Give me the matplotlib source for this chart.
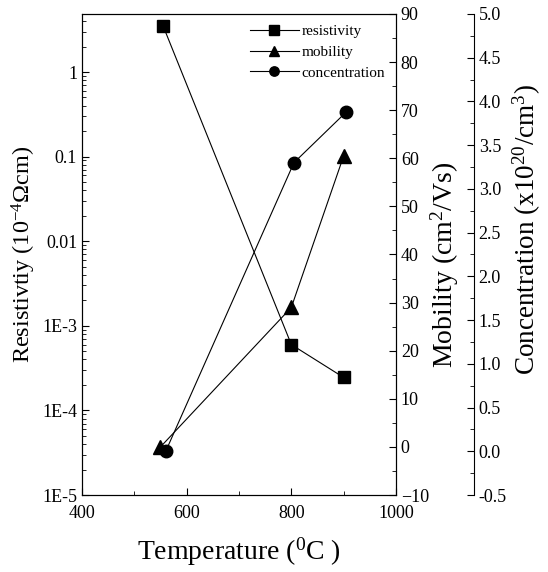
import matplotlib
matplotlib.use('Agg')
import matplotlib.pyplot as plt
from matplotlib.ticker import FixedLocator, MultipleLocator, LogLocator, NullFormatter, FuncFormatter

plt.rcParams['font.family'] = ['Liberation Serif', 'DejaVu Serif']
plt.rcParams['mathtext.fontset'] = 'custom'
plt.rcParams['mathtext.rm'] = 'Liberation Serif'
plt.rcParams['mathtext.it'] = 'Liberation Serif:italic'

# data
temp_res = [555, 800, 900]
resistivity = [3.5, 6.0e-4, 2.45e-4]

temp_mob = [550, 800, 900]
mobility = [0.0, 29.0, 60.5]

temp_conc = [560, 805, 905]
concentration = [0.0, 3.3, 3.88]

log_ticks = [1e-5, 1e-4, 1e-3, 0.01, 0.1, 1]
log_labels = ['1E-5', '1E-4', '1E-3', '0.01', '0.1', '1']

fig = plt.figure(figsize=(5.48, 5.72), dpi=100)
ax = fig.add_axes([82/548, 1-495/572, 314/548, 481/572])

l1, = ax.plot(temp_res, resistivity, 'k-', lw=0.8, marker='s', ms=9, label='resistivity')
ax.set_yscale('log')
ax.set_ylim(1e-5, 4.85)
ax.set_xlim(400, 1000)
ax.yaxis.set_major_locator(FixedLocator(log_ticks))
ax.yaxis.set_major_formatter(FuncFormatter(lambda v, p: log_labels[log_ticks.index(v)] if v in log_ticks else ''))
ax.yaxis.set_minor_locator(LogLocator(base=10, subs=range(2, 10)))
ax.yaxis.set_minor_formatter(NullFormatter())
ax.xaxis.set_major_locator(MultipleLocator(200))
ax.xaxis.set_minor_locator(MultipleLocator(100))
ax.tick_params(which='both', direction='in', labelsize=13, top=False)
ax.tick_params(axis='x', pad=7)
ax.tick_params(which='major', length=5)
ax.tick_params(which='minor', length=3)
ax.set_xlabel(r'Temperature ($^{0}$C )', fontsize=20, labelpad=10)
ax.set_ylabel(r'Resistivtiy (10$^{\mathrm{-4}}$Ωcm)', fontsize=17.5, labelpad=3)

ax2 = ax.twinx()
l2, = ax2.plot(temp_mob, mobility, 'k-', lw=0.8, marker='^', ms=10, label='mobility')
ax2.set_ylim(-10, 90)
ax2.yaxis.set_major_locator(MultipleLocator(10))
ax2.yaxis.set_minor_locator(MultipleLocator(5))
ax2.tick_params(which='both', direction='in', labelsize=13)
ax2.tick_params(which='major', length=5)
ax2.tick_params(which='minor', length=3)
ax2.set_ylabel(r'Mobility (cm$^{2}$/Vs)', fontsize=20, labelpad=0)
ax2.yaxis.label.set_y(0.478)

ax3 = ax.twinx()
ax3.spines['right'].set_position(('axes', 1.248))
for s in ['top', 'left', 'bottom']:
    ax3.spines[s].set_visible(False)
l3, = ax3.plot(temp_conc, concentration, 'k-', lw=0.8, marker='o', ms=9, label='concentration')
ax3.set_ylim(-0.5, 5.0)
ax3.yaxis.set_major_locator(MultipleLocator(0.5))
ax3.yaxis.set_minor_locator(MultipleLocator(0.25))
ax3.yaxis.set_major_formatter(FuncFormatter(lambda v, p: '%.1f' % v))
ax3.tick_params(which='both', direction='in', labelsize=13)
ax3.tick_params(which='major', length=5)
ax3.tick_params(which='minor', length=3)
ax3.set_ylabel(r'Concentration (x10$^{20}$/cm$^{3}$)', fontsize=19.5, labelpad=3)
ax3.yaxis.label.set_y(0.551)

ax.legend(handles=[l1, l2, l3], loc='upper right', frameon=False, fontsize=11,
          handlelength=3.2, handletextpad=0.2, labelspacing=0.45,
          borderaxespad=0.3, markerscale=0.75)

fig.savefig('out.png', dpi=100)
